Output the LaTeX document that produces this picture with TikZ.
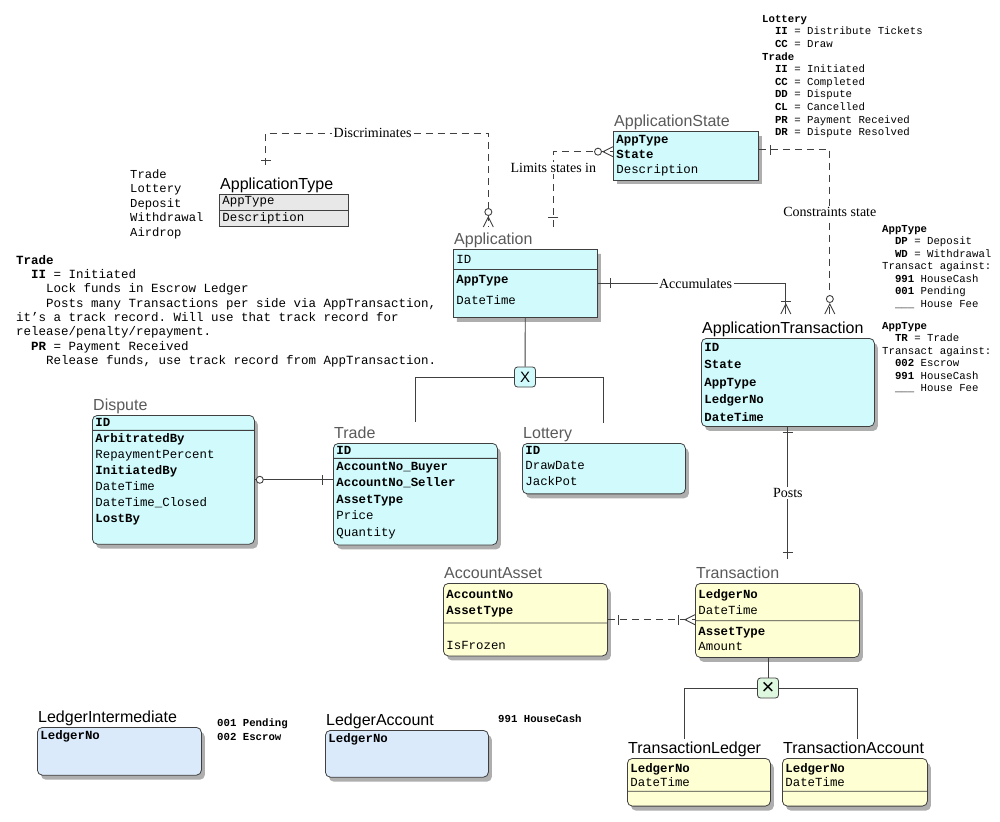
\documentclass[tikz,border=0pt]{standalone}
\usepackage{fontspec}
\setmainfont{Liberation Serif}
\setsansfont{Liberation Sans}
\setmonofont{Liberation Mono}
\usetikzlibrary{shapes.multipart,shadows,decorations.markings}

\definecolor{entcyan}{RGB}{208,250,252}
\definecolor{entyellow}{RGB}{255,255,212}
\definecolor{entblue}{RGB}{218,234,251}
\definecolor{entgray}{RGB}{232,232,232}
\definecolor{entgreen}{RGB}{222,248,224}
\definecolor{linegray}{RGB}{64,64,64}
\definecolor{titlegray}{RGB}{90,90,90}

\newcommand{\ind}[1]{\hspace*{#1\fontcharwd\font`0}}
\newcommand{\pad}[1]{\rule[-#1]{0pt}{#1}}

\begin{document}
\begin{tikzpicture}[x=1pt,y=-1pt,
    ent/.style={rectangle split,rectangle split parts=2,anchor=north west,draw=linegray,
        line width=0.8pt,inner xsep=3pt,inner ysep=3pt,align=left},
    rowskip/.style={font=\fontsize{12.4}{#1}\selectfont\ttfamily},
    boxshadow/.style={drop shadow={shadow xshift=3.5pt,shadow yshift=-4.5pt,opacity=0.45,fill=black!70}},
    rnd/.style={rounded corners=5pt},
    enttitle/.style={anchor=south west,inner xsep=1pt,inner ysep=0pt,text depth=4pt,
        font=\sffamily\fontsize{16}{16}\selectfont},
    rel/.style={draw=linegray,line width=0.9pt},
    dashrel/.style={rel,dash pattern=on 7pt off 5pt},
    lbl/.style={fill=white,inner sep=1.5pt,font=\fontsize{14}{14}\selectfont},
    xbox/.style={draw=linegray,line width=0.8pt,rounded corners=3pt,minimum width=21pt,
        minimum height=20pt,inner sep=0pt,font=\sffamily\fontsize{15}{15}\selectfont},
    notes/.style={anchor=north west,inner sep=0pt,align=left},
    onebar/.style={postaction={decorate,decoration={markings,mark=at position #1 with
        {\draw[solid,linegray,line width=0.9pt] (0,-5pt) -- (0,5pt);}}}},
    zeroring/.style={postaction={decorate,decoration={markings,mark=at position #1 with
        {\draw[solid,linegray,fill=white,line width=0.9pt] (0,0) circle (3.5pt);}}}},
    crowfoot/.style={postaction={decorate,decoration={markings,mark=at position 1 with
        {\draw[solid,linegray,line width=0.9pt] (0,5pt) -- (-10pt,0) -- (0,-5pt);}}}}]

\fill[white] (0,0) rectangle (1000,821);
\useasboundingbox (0,0) rectangle (1000,821);

% notes
\node[notes,font=\fontsize{10.7}{12.6}\selectfont\ttfamily] (statenotes) at (762,15) {\textbf{Lottery}\\
    \ind{2}\textbf{II} = Distribute Tickets\\
    \ind{2}\textbf{CC} = Draw\\
    \textbf{Trade}\\
    \ind{2}\textbf{II} = Initiated\\
    \ind{2}\textbf{CC} = Completed\\
    \ind{2}\textbf{DD} = Dispute\\
    \ind{2}\textbf{CL} = Cancelled\\
    \ind{2}\textbf{PR} = Payment Received\\
    \ind{2}\textbf{DR} = Dispute Resolved};
\node[notes,font=\fontsize{10.7}{12.5}\selectfont\ttfamily] (typenotes) at (882,225) {\textbf{AppType}\\
    \ind{2}\textbf{DP} = Deposit\\
    \ind{2}\textbf{WD} = Withdrawal\\
    Transact against:\\
    \ind{2}\textbf{991} HouseCash\\
    \ind{2}\textbf{001} Pending\\
    \ind{2}\_\_\_ House Fee\\[9.5pt]
    \textbf{AppType}\\
    \ind{2}\textbf{TR} = Trade\\
    Transact against:\\
    \ind{2}\textbf{002} Escrow\\
    \ind{2}\textbf{991} HouseCash\\
    \ind{2}\_\_\_ House Fee};
\node[notes,font=\fontsize{12.2}{14.5}\selectfont\ttfamily] (typelist) at (130,169) {Trade\\Lottery\\Deposit\\Withdrawal\\Airdrop};
\node[notes,font=\fontsize{12.5}{14.3}\selectfont\ttfamily] (tradenotes) at (16,255) {\textbf{Trade}\\
    \ind{2}\textbf{II} = Initiated\\
    \ind{4}Lock funds in Escrow Ledger\\
    \ind{4}Posts many Transactions per side via AppTransaction,\\
    it’s a track record. Will use that track record for\\
    release/penalty/repayment.\\
    \ind{2}\textbf{PR} = Payment Received\\
    \ind{4}Release funds, use track record from AppTransaction.};
\node[notes,font=\fontsize{10.7}{14}\selectfont\ttfamily\bfseries] (ledgnotes) at (217,719) {001 Pending\\002 Escrow};
\node[notes,font=\fontsize{10.7}{14}\selectfont\ttfamily\bfseries] (cashnote) at (498,715) {991 HouseCash};

% application entities
\node[ent,fill=entgray,rowskip=15,text width=123pt,inner ysep=2pt] (apptype) at (219,194) {AppType\nodepart{two}Description};
\node[enttitle] (apptypetitle) at (apptype.north west) {ApplicationType};

\node[ent,fill=entcyan,boxshadow,rowskip=21,text width=138pt,inner ysep=5.5pt] (app) at (453,249) {ID\nodepart{two}\textbf{AppType}\\DateTime\pad{7pt}};
\node[enttitle,text=titlegray] (apptitle) at (app.north west) {Application};

\node[ent,rectangle split parts=1,fill=entcyan,boxshadow,rowskip=15,text width=139pt,inner ysep=3.5pt] (appstate) at (613,131) {\textbf{AppType}\\\textbf{State}\\Description};
\node[enttitle,text=titlegray] (appstatetitle) at (appstate.north west) {ApplicationState};

\node[ent,rnd,rectangle split parts=1,fill=entcyan,boxshadow,rowskip=17.5,text width=167pt,inner ysep=4.5pt] (apptrans) at (701,338) {\textbf{ID}\\\textbf{State}\\\textbf{AppType}\\\textbf{LedgerNo}\\\textbf{DateTime}};
\node[enttitle] (apptranstitle) at (apptrans.north west) {ApplicationTransaction};

% trade entities
\node[ent,rnd,fill=entcyan,boxshadow,rowskip=16,text width=156pt] (dispute) at (92,415) {\textbf{ID}\nodepart{two}\textbf{ArbitratedBy}\\RepaymentPercent\\\textbf{InitiatedBy}\\DateTime\\DateTime\_Closed\\\textbf{LostBy}\pad{18pt}};
\node[enttitle,text=titlegray] (disputetitle) at (dispute.north west) {Dispute};

\node[ent,rnd,fill=entcyan,boxshadow,rowskip=16.5,text width=158pt] (trade) at (333,443) {\textbf{ID}\nodepart{two}\textbf{AccountNo\_Buyer}\\\textbf{AccountNo\_Seller}\\\textbf{AssetType}\\Price\\Quantity\pad{5.5pt}};
\node[enttitle,text=titlegray] (tradetitle) at (trade.north west) {Trade};

\node[ent,rnd,rectangle split parts=1,fill=entcyan,boxshadow,rowskip=15.5,text width=157pt,inner ysep=2.5pt] (lottery) at (522,443) {\textbf{ID}\\DrawDate\\JackPot\pad{5.5pt}};
\node[enttitle,text=titlegray] (lotterytitle) at (lottery.north west) {Lottery};

% ledger entities
\node[ent,rnd,fill=entyellow,boxshadow,rowskip=16,text width=158pt,inner ysep=6pt] (acctasset) at (443,583) {\textbf{AccountNo}\\\textbf{AssetType}\nodepart{two}\rule{0pt}{4pt}\\IsFrozen};
\node[enttitle,text=titlegray] (acctassettitle) at (acctasset.north west) {AccountAsset};

\node[ent,rnd,fill=entyellow,boxshadow,rowskip=15.5,text width=158pt,inner ysep=6pt] (trans) at (695,583) {\textbf{LedgerNo}\\DateTime\nodepart{two}\textbf{AssetType}\\Amount};
\node[enttitle,text=titlegray] (transtitle) at (trans.north west) {Transaction};

\node[ent,rnd,fill=entyellow,boxshadow,rowskip=14,text width=137pt,inner ysep=4.5pt] (tledger) at (627,758) {\textbf{LedgerNo}\\DateTime\nodepart{two}\pad{5pt}};
\node[enttitle] (tledgertitle) at (tledger.north west) {TransactionLedger};

\node[ent,rnd,fill=entyellow,boxshadow,rowskip=14,text width=139pt,inner ysep=4.5pt] (tacct) at (782,758) {\textbf{LedgerNo}\\DateTime\nodepart{two}\pad{5pt}};
\node[enttitle] (tacctitle) at (tacct.north west) {TransactionAccount};

\node[ent,rnd,rectangle split parts=1,fill=entblue,boxshadow,rowskip=15,text width=158pt,inner ysep=2.5pt] (ledgint) at (37,727) {\textbf{LedgerNo}\pad{33pt}};
\node[enttitle] (ledginttitle) at (ledgint.north west) {LedgerIntermediate};

\node[ent,rnd,rectangle split parts=1,fill=entblue,boxshadow,rowskip=15,text width=157pt,inner ysep=2.5pt] (ledgacct) at (325,730) {\textbf{LedgerNo}\pad{32pt}};
\node[enttitle] (ledgaccttitle) at (ledgacct.north west) {LedgerAccount};

% relationships
\draw[dashrel,onebar=5pt,zeroring=-15pt,crowfoot] ([xshift=-11pt,yshift=13pt]apptypetitle.north) -- ++(0,-32)
    -| node[lbl,pos=0.24]{Discriminates} ([xshift=-5pt,yshift=6pt]apptitle.north);
\draw[dashrel,onebar=10pt,zeroring=-15pt,crowfoot] ([xshift=60pt,yshift=6pt]apptitle.north)
    |- node[lbl,pos=0.39]{Limits states in} ([yshift=4pt]appstate.west);
\draw[dashrel,onebar=12pt,zeroring=-15pt,crowfoot] ([yshift=6pt]appstate.east)
    -| node[lbl,pos=0.69]{Constraints state} ([xshift=47pt,yshift=8pt]apptranstitle.north);
\draw[rel,onebar=13pt,onebar=-13pt,crowfoot] (app.east)
    -| node[lbl,pos=0.26]{Accumulates} ([xshift=3pt,yshift=8pt]apptranstitle.north);

\path (apptrans.south |- transtitle.north) ++(0,-8) coordinate (postsend);
\draw[rel,onebar=6pt,onebar=-7pt] (apptrans.south) -- node[lbl]{Posts} (postsend);

\draw[rel,zeroring=5pt,onebar=-11pt] (dispute.east) -- (dispute.east -| trade.west);
\draw[dashrel,onebar=11pt,onebar=-17pt,crowfoot] (acctasset.east) -- (acctasset.east -| trans.west);

% subtypes
\node[xbox,fill=entcyan] (appx) at (525,377) {X};
\path (tradetitle.north -| trade.north) ++(0,-5) coordinate (tradetop);
\path (lotterytitle.north -| lottery.north) ++(0,-5) coordinate (lotterytop);
\draw[rel] (app) -- (appx);
\draw[rel] (appx) -| (tradetop);
\draw[rel] (appx) -| (lotterytop);

\node[xbox,fill=entgreen,font=\sffamily\fontsize{22}{22}\selectfont] (transx) at (768,688) {×};
\path (tledgertitle.north) ++(-10,-3) coordinate (tledgertop);
\path (tacctitle.north) ++(4,-3) coordinate (tacctop);
\draw[rel] (trans.south -| transx) -- (transx);
\draw[rel] (transx) -| (tledgertop);
\draw[rel] (transx) -| (tacctop);
\end{tikzpicture}
\end{document}
